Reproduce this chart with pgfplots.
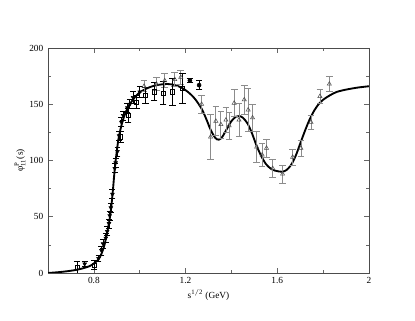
\documentclass[border=0pt]{standalone}
\usepackage{pgfplots}
\pgfplotsset{compat=1.18}
\usepackage{fontspec}
\setmainfont{Liberation Serif}

\definecolor{errgray}{HTML}{8C8C8C}

\begin{document}
\begin{tikzpicture}
\path[use as bounding box] (0,0) rectangle (311.25pt,240.75pt);
\begin{axis}[
  at={(36pt,36pt)},
  anchor=south west,
  scale only axis,
  width=240.75pt,
  height=168.75pt,
  xmin=0.6, xmax=2,
  ymin=0, ymax=200,
  xtick={0.8,1.2,1.6,2},
  xticklabels={0.8,1.2,1.6,2},
  minor xtick={1.0,1.4,1.8},
  ytick={0,50,100,150,200},
  minor ytick={25,75,125,175},
  tick align=inside,
  major tick length=3.5pt,
  minor tick length=2pt,
  tick style={black!60, line width=0.5pt},
  axis line style={black!70, line width=0.6pt},
  tick label style={font=\fontsize{7}{8}\selectfont},
  /pgf/number format/assume math mode=true,
  xlabel={s$^{\mathrm{1/2}}$ (GeV)},
  ylabel={φ$^{\mathrm{P}}_{\mathrm{11}}$(s)},
  label style={font=\fontsize{7}{8}\selectfont},
  xlabel style={yshift=3pt},
  ylabel style={yshift=-4pt},
  error bars/y dir=both,
  error bars/y explicit,
]
% fit curve
\addplot[black, line width=1.4pt, smooth, no marks] coordinates {
  (0.60,0) (0.65,0.8) (0.70,2) (0.74,3.5) (0.78,6) (0.80,8.5) (0.82,12) (0.833,17)
  (0.845,24) (0.854,32) (0.862,40) (0.869,48) (0.875,57) (0.88,67) (0.885,78)
  (0.89,90) (0.895,100) (0.90,108) (0.905,116) (0.91,122) (0.92,131) (0.93,138)
  (0.94,143.5) (0.95,147.5) (0.96,151) (0.98,156.5) (1.00,160.5) (1.03,164)
  (1.06,166.3) (1.09,167.5) (1.12,168) (1.15,167.2) (1.18,165) (1.21,161)
  (1.24,155) (1.27,146) (1.29,137) (1.31,127) (1.33,120) (1.345,118.5)
  (1.36,121) (1.38,128) (1.40,135) (1.42,139) (1.435,139.5) (1.45,138)
  (1.47,133) (1.49,124) (1.51,113) (1.53,104) (1.55,97) (1.57,93) (1.59,91)
  (1.62,90) (1.64,91.5) (1.66,96) (1.68,104) (1.70,115) (1.72,126) (1.74,136)
  (1.76,144) (1.78,150) (1.80,154) (1.83,158) (1.86,161) (1.90,163)
  (1.95,164.8) (2.00,166)
};
% gray open triangles
\addplot[only marks, mark=triangle, mark size=1.8pt, black!70,
  error bars/error bar style={errgray, line width=0.6pt},
  error bars/error mark options={errgray, line width=0.6pt, mark size=2.5pt, rotate=90}]
  coordinates {
  (1.019,166) +- (0,5) (1.073,168) +- (0,6) (1.109,171) +- (0,6)
  (1.153,172) +- (0,6) (1.179,174) +- (0,6) (1.27,150) +- (0,8)
  (1.309,121) +- (0,20) (1.332,135) +- (0,13) (1.354,132) +- (0,12)
  (1.376,136) +- (0,11) (1.39,131) +- (0,12) (1.412,151) +- (0,12)
  (1.433,136) +- (0,15) (1.456,154) +- (0,13) (1.473,145) +- (0,19)
  (1.492,138) +- (0,12) (1.51,112) +- (0,14) (1.534,105) +- (0,10)
  (1.553,111) +- (0,8) (1.58,93) +- (0,8) (1.623,88) +- (0,8)
  (1.667,103) +- (0,7) (1.703,111) +- (0,7) (1.747,134) +- (0,6)
  (1.786,157) +- (0,6) (1.827,168) +- (0,7)
};
% open squares
\addplot[only marks, mark=square, mark size=1.6pt, black,
  error bars/error bar style={black, line width=0.6pt},
  error bars/error mark options={black, line width=0.6pt, mark size=2.5pt, rotate=90}]
  coordinates {
  (0.727,5) +- (0,5) (0.801,7) +- (0,4) (0.916,121) +- (0,5)
  (0.949,140) +- (0,6) (0.986,152) +- (0,6) (1.024,158) +- (0,7)
  (1.063,161) +- (0,8) (1.102,160) +- (0,10) (1.143,161) +- (0,12)
  (1.187,164) +- (0,13)
};
% filled down triangles on the rise
\addplot[only marks, mark=triangle*, mark size=1.6pt, black, mark options={rotate=180},
  error bars/error bar style={black, line width=0.6pt},
  error bars/error mark options={black, line width=0.6pt, mark size=2.2pt, rotate=90}]
  coordinates {
  (0.76,8) +- (0,2) (0.82,13) +- (0,3) (0.833,20) +- (0,4) (0.84,26) +- (0,4)
  (0.852,31) +- (0,4) (0.858,37) +- (0,4) (0.866,44) +- (0,4) (0.869,51) +- (0,4)
  (0.874,58) +- (0,4) (0.881,70) +- (0,4) (0.891,93) +- (0,4) (0.895,98) +- (0,4)
  (0.903,108) +- (0,4) (0.91,122) +- (0,4) (0.92,134) +- (0,4) (0.928,140) +- (0,4)
  (0.946,147) +- (0,4) (0.957,150) +- (0,4) (0.971,156) +- (0,5) (1.0,161) +- (0,5)
};
% filled circles
\addplot[only marks, mark=*, mark size=1.5pt, black,
  error bars/error bar style={black, line width=0.6pt},
  error bars/error mark options={black, line width=0.6pt, mark size=2.5pt, rotate=90}]
  coordinates {
  (1.219,171) +- (0,2) (1.259,167) +- (0,4)
};
\end{axis}
\end{tikzpicture}
\end{document}
